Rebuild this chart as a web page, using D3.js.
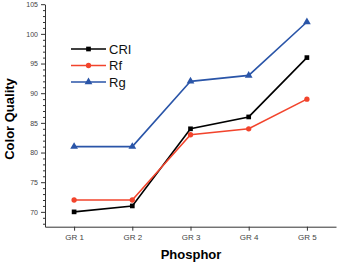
<html>
  <head>
    <meta charset="utf-8" />
    <script src="https://cdnjs.cloudflare.com/ajax/libs/d3/7.6.1/d3.min.js"></script>
    <style>
      body { margin: 0; background: #fff; }
      svg { font-family: "Liberation Sans", Arial, sans-serif; }
      .axis path, .axis line { stroke: #333; }
      .axis text { fill: #444; }
    </style>
  </head>
  <body>
    <svg width="337" height="262"></svg>
  </body>
  <script>
    const categories = ["GR 1", "GR 2", "GR 3", "GR 4", "GR 5"];
    const cri = [70, 71, 84, 86, 96];
    const rf = [72, 72, 83, 84, 89];
    const rg = [81, 81, 92, 93, 102];
    const yTicks = [70, 75, 80, 85, 90, 95, 100, 105];

    const series = [
      { name: "CRI", values: cri, color: "#000000", shape: d3.symbolSquare },
      { name: "Rf", values: rf, color: "#f2442c", shape: d3.symbolCircle },
      { name: "Rg", values: rg, color: "#2a55a8", shape: d3.symbolTriangle },
    ];

    const svg = d3.select("svg");
    const x = d3.scalePoint().domain(categories).range([45, 336]).padding(0.5);
    const y = d3.scaleLinear().domain([67.5, 105]).range([226.7, 4.2]);

    // minor ticks
    const minor = d3.range(68, 106).filter((v) => v % 5 != 0);
    svg.append("g").attr("class", "axis")
      .attr("transform", "translate(45,0)")
      .call(d3.axisLeft(y).tickValues(minor).tickSize(2).tickFormat(""))
      .select(".domain").remove();

    svg.append("g").attr("class", "axis")
      .attr("transform", "translate(45,0)")
      .call(d3.axisLeft(y).tickValues(yTicks).tickSize(4).tickSizeOuter(0).tickPadding(3))
      .selectAll("text").attr("font-size", 7);

    svg.append("g").attr("class", "axis")
      .attr("transform", "translate(0,226.7)")
      .call(d3.axisBottom(x).tickSize(4).tickSizeOuter(0).tickPadding(4))
      .selectAll("text").attr("font-size", 8);

    const line = d3.line().x((d, i) => x(categories[i])).y((d) => y(d));

    series.forEach((s) => {
      svg.append("path")
        .attr("d", line(s.values))
        .attr("fill", "none")
        .attr("stroke", s.color)
        .attr("stroke-width", 1.6);
      svg.selectAll(null)
        .data(s.values)
        .enter()
        .append("path")
        .attr("d", d3.symbol().type(s.shape).size(s.shape === d3.symbolTriangle ? 26 : 22))
        .attr("transform", (d, i) => `translate(${x(categories[i])},${y(d)})`)
        .attr("fill", s.color);
    });

    // legend
    const legend = svg.append("g").attr("transform", "translate(71,49)");
    series.forEach((s, i) => {
      const g = legend.append("g").attr("transform", `translate(0,${i * 16.5})`);
      g.append("line").attr("x1", 0).attr("x2", 35).attr("stroke", s.color).attr("stroke-width", 1.6);
      g.append("path")
        .attr("d", d3.symbol().type(s.shape).size(s.shape === d3.symbolTriangle ? 26 : 22))
        .attr("transform", "translate(17.5,0)")
        .attr("fill", s.color);
      g.append("text").attr("x", 38).attr("y", 4.5)
        .attr("font-size", 13).attr("fill", "#111").text(s.name);
    });

    svg.append("text")
      .attr("x", 191).attr("y", 259)
      .attr("text-anchor", "middle")
      .attr("font-size", 13).attr("font-weight", "bold")
      .text("Phosphor");

    svg.append("text")
      .attr("transform", "translate(14,119) rotate(-90)")
      .attr("text-anchor", "middle")
      .attr("font-size", 13).attr("font-weight", "bold")
      .text("Color Quality");
  </script>
</html>
